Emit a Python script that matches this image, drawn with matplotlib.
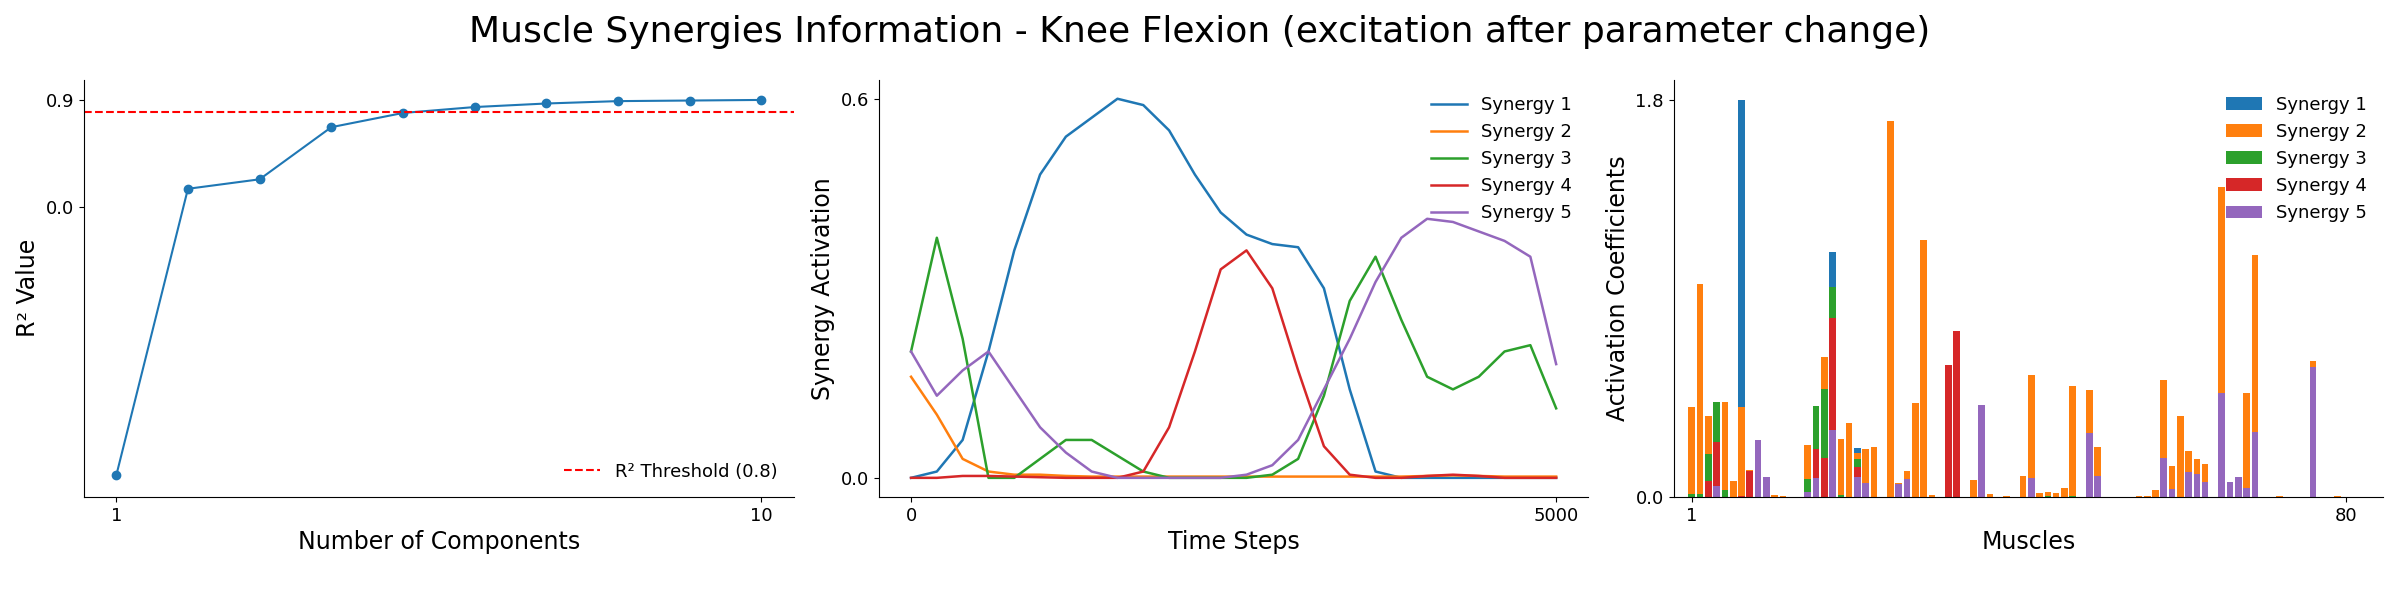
import numpy as np
import matplotlib
matplotlib.use("Agg")
import matplotlib.pyplot as plt

# R^2 per number of components
n_components = [1, 2, 3, 4, 5, 6, 7, 8, 9, 10]
r2_values = [-2.27, 0.15, 0.23, 0.67, 0.79, 0.84, 0.87, 0.89, 0.895, 0.90]
r2_threshold = 0.8

# synergy activations, sampled every 200 steps
time_steps = list(range(0, 5001, 200))
syn1 = [0, 0.01, 0.06, 0.20, 0.36, 0.48, 0.54, 0.57, 0.60, 0.59, 0.55, 0.48, 0.42,
        0.385, 0.37, 0.365, 0.30, 0.14, 0.01, 0, 0, 0, 0, 0, 0, 0]
syn2 = [0.16, 0.10, 0.03, 0.01, 0.005, 0.005, 0.003, 0.002, 0.002, 0.002, 0.002, 0.002, 0.002,
        0.002, 0.002, 0.002, 0.002, 0.002, 0.002, 0.002, 0.003, 0.004, 0.003, 0.002, 0.002, 0.002]
syn3 = [0.20, 0.38, 0.22, 0.0, 0.0, 0.03, 0.06, 0.06, 0.035, 0.01, 0, 0, 0,
        0, 0.005, 0.03, 0.13, 0.28, 0.35, 0.25, 0.16, 0.14, 0.16, 0.20, 0.21, 0.11]
syn4 = [0, 0, 0.003, 0.003, 0.002, 0.001, 0, 0, 0, 0.01, 0.08, 0.20, 0.33,
        0.36, 0.30, 0.17, 0.05, 0.005, 0, 0, 0.003, 0.005, 0.003, 0, 0, 0]
syn5 = [0.20, 0.13, 0.17, 0.20, 0.14, 0.08, 0.04, 0.01, 0, 0, 0, 0, 0,
        0.005, 0.02, 0.06, 0.14, 0.22, 0.31, 0.38, 0.41, 0.405, 0.39, 0.375, 0.35, 0.18]
activations = [syn1, syn2, syn3, syn4, syn5]

# muscle coefficients (80 muscles), {muscle: value} per synergy
w1 = {7: 1.391, 18: 0.159, 21: 0.023}
w2 = {1: 0.394, 2: 0.952, 3: 0.172, 5: 0.399, 6: 0.071, 7: 0.402, 8: 0.005, 11: 0.008,
      12: 0.004, 15: 0.154, 17: 0.145, 19: 0.252, 20: 0.334, 21: 0.027, 22: 0.154, 23: 0.225,
      25: 1.702, 26: 0.005, 27: 0.036, 28: 0.424, 29: 1.163, 30: 0.008, 35: 0.076, 37: 0.012,
      39: 0.003, 41: 0.094, 42: 0.467, 43: 0.017, 44: 0.020, 45: 0.017, 46: 0.039, 47: 0.496,
      49: 0.193, 50: 0.131, 55: 0.004, 56: 0.004, 57: 0.030, 58: 0.352, 59: 0.104, 60: 0.366,
      61: 0.095, 62: 0.068, 63: 0.082, 65: 0.934, 68: 0.431, 69: 0.802, 72: 0.004, 76: 0.027,
      79: 0.004}
w3 = {1: 0.012, 2: 0.012, 3: 0.122, 4: 0.180, 5: 0.030, 15: 0.057, 16: 0.195, 17: 0.311,
      18: 0.139, 19: 0.009, 21: 0.036, 44: 0.004, 47: 0.005}
w4 = {3: 0.071, 4: 0.201, 7: 0.005, 8: 0.116, 16: 0.130, 17: 0.177, 18: 0.509, 21: 0.045,
      32: 0.597, 33: 0.751}
w5 = {4: 0.048, 9: 0.257, 10: 0.089, 15: 0.023, 16: 0.086, 18: 0.302, 21: 0.089, 22: 0.062,
      26: 0.057, 27: 0.080, 36: 0.415, 42: 0.085, 49: 0.290, 50: 0.094, 58: 0.177, 59: 0.035,
      61: 0.112, 62: 0.103, 63: 0.066, 65: 0.470, 66: 0.066, 67: 0.089, 68: 0.039, 69: 0.293,
      76: 0.588}
weights = [w1, w2, w3, w4, w5]
muscles = np.arange(1, 81)

colors = ["#1f77b4", "#ff7f0e", "#2ca02c", "#d62728", "#9467bd"]

fig, axes = plt.subplots(1, 3, figsize=(24, 6), dpi=100)
fig.subplots_adjust(left=0.035, right=0.993, top=0.867, bottom=0.172, wspace=0.12)
fig.suptitle("Muscle Synergies Information - Knee Flexion (excitation after parameter change)",
             fontsize=26, y=0.975)

# panel 1
ax = axes[0]
ax.plot(n_components, r2_values, marker="o", color=colors[0])
ax.axhline(r2_threshold, color="red", linestyle="--", label="R² Threshold (0.8)")
ax.set_xticks([1, 10])
ax.set_yticks([0.0, 0.9])
ax.set_yticklabels(["0.0", "0.9"])
ax.set_ylim(-2.45, 1.07)
ax.set_xlabel("Number of Components", fontsize=17)
ax.set_ylabel("R² Value", fontsize=17)
ax.legend(loc="lower right", frameon=False, fontsize=13)

# panel 2
ax = axes[1]
for i, act in enumerate(activations):
    ax.plot(time_steps, act, color=colors[i], lw=1.8, label=f"Synergy {i + 1}")
ax.set_xticks([0, 5000])
ax.set_yticks([0.0, 0.6])
ax.set_yticklabels(["0.0", "0.6"])
ax.set_xlabel("Time Steps", fontsize=17)
ax.set_ylabel("Synergy Activation", fontsize=17)
ax.legend(loc="upper right", frameon=False, fontsize=13)

# panel 3, stacked from synergy 5 at the bottom up to synergy 1
ax = axes[2]
bottom = np.zeros(80)
handles = {}
for i in [4, 3, 2, 1, 0]:
    vals = np.array([weights[i].get(m, 0.0) for m in muscles])
    handles[i] = ax.bar(muscles, vals, bottom=bottom, color=colors[i], width=0.8,
                        label=f"Synergy {i + 1}")
    bottom += vals
ax.set_xticks([1, 80])
ax.set_yticks([0.0, 1.8])
ax.set_yticklabels(["0.0", "1.8"])
ax.set_ylim(0, 1.89)
ax.set_xlim(-1.2, 84.5)
ax.set_xlabel("Muscles", fontsize=17)
ax.set_ylabel("Activation Coefficients", fontsize=17)
ax.legend([handles[i] for i in range(5)], [f"Synergy {i + 1}" for i in range(5)],
          loc="upper right", frameon=False, fontsize=13)

for ax in axes:
    ax.spines["top"].set_visible(False)
    ax.spines["right"].set_visible(False)
    ax.tick_params(labelsize=13)

fig.savefig("out.png")
